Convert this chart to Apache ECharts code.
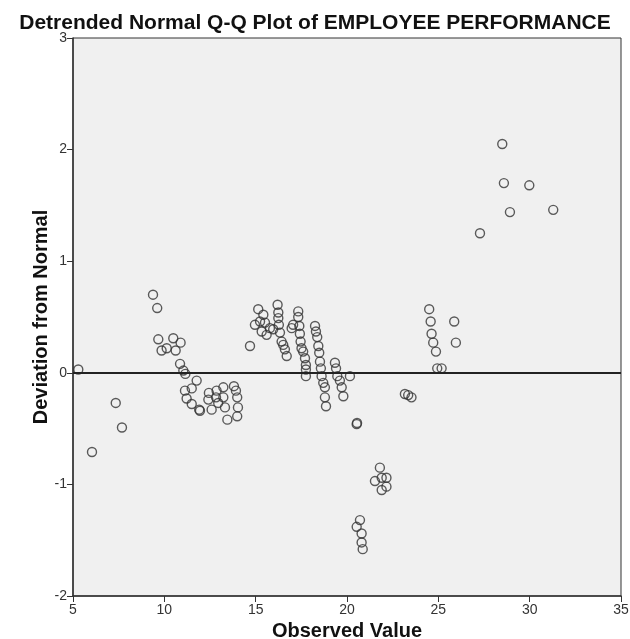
<!DOCTYPE html>
<html>
<head>
<meta charset="utf-8">
<script src="https://cdn.jsdelivr.net/npm/echarts@6/dist/echarts.min.js"></script>
<style>
  html, body { margin: 0; padding: 0; background: #fff; }
  #box { width: 630px; height: 639px; }
</style>
</head>
<body>
<div id="box"></div>
<script>
var observed = [
    5.29, 6.04, 7.34, 7.68, 9.38, 9.61, 9.67, 9.85, 10.13, 10.49,
    10.89, 10.62, 10.86, 11.04, 11.15, 11.77, 11.13, 11.50, 11.22, 11.50,
    11.91, 11.95, 12.44, 12.41, 12.59, 12.86, 12.83, 12.95, 13.23, 13.23,
    13.32, 13.45, 13.81, 13.92, 13.99, 14.03, 13.99, 14.69, 15.14, 14.96,
    15.24, 15.42, 15.51, 15.33, 15.60, 15.78, 15.96, 16.20, 16.24, 16.24,
    16.27, 16.33, 16.42, 16.51, 16.60, 16.70, 16.97, 17.05, 17.33, 17.33,
    17.39, 17.42, 17.46, 17.51, 17.60, 17.70, 17.75, 17.75, 17.75, 18.25,
    18.30, 18.37, 18.43, 18.48, 18.52, 18.57, 18.61, 18.70, 18.79, 18.79,
    18.85, 19.34, 19.40, 19.47, 19.61, 19.71, 19.80, 20.16, 20.53, 20.55,
    21.80, 21.53, 21.90, 22.16, 21.90, 22.16, 20.71, 20.53, 20.80, 20.80,
    20.86, 23.17, 23.35, 23.53, 24.50, 24.58, 24.63, 24.72, 24.87, 24.94,
    25.18, 25.87, 25.96, 27.28, 28.50, 28.59, 28.92, 29.98, 31.29
];
var deviation = [
    0.03, -0.71, -0.27, -0.49, 0.70, 0.58, 0.30, 0.20, 0.22, 0.31,
    0.27, 0.20, 0.08, 0.02, -0.01, -0.07, -0.16, -0.14, -0.23, -0.28,
    -0.33, -0.34, -0.18, -0.24, -0.33, -0.16, -0.22, -0.27, -0.13, -0.22,
    -0.31, -0.42, -0.12, -0.16, -0.22, -0.31, -0.39, 0.24, 0.57, 0.43,
    0.46, 0.52, 0.45, 0.37, 0.34, 0.40, 0.39, 0.61, 0.54, 0.49,
    0.43, 0.36, 0.28, 0.25, 0.21, 0.15, 0.40, 0.43, 0.55, 0.50,
    0.42, 0.35, 0.28, 0.22, 0.19, 0.13, 0.07, 0.03, -0.03, 0.42,
    0.37, 0.32, 0.24, 0.18, 0.10, 0.04, -0.03, -0.09, -0.13, -0.22,
    -0.30, 0.09, 0.04, -0.03, -0.07, -0.13, -0.21, -0.03, -0.46, -0.45,
    -0.85, -0.97, -0.94, -0.94, -1.05, -1.02, -1.32, -1.38, -1.44, -1.52,
    -1.58, -0.19, -0.20, -0.22, 0.57, 0.46, 0.35, 0.27, 0.19, 0.04,
    0.04, 0.46, 0.27, 1.25, 2.05, 1.70, 1.44, 1.68, 1.46
];
var referenceLevel = 0;

var points = observed.map(function (v, i) {
    return [v, deviation[i]];
});

var myChart = echarts.init(document.getElementById('box'));

var option = {
    animation: false,
    backgroundColor: '#ffffff',
    title: {
        text: 'Detrended Normal Q-Q Plot of EMPLOYEE PERFORMANCE',
        left: 'center',
        top: 8,
        textStyle: {
            fontFamily: 'Liberation Sans',
            fontSize: 21,
            fontWeight: 'bold',
            color: '#111'
        }
    },
    grid: {
        left: 73,
        right: 9,
        top: 38,
        bottom: 43,
        outerBoundsMode: 'none',
        containLabel: false,
        show: true,
        backgroundColor: '#f0f0f0',
        borderColor: '#333',
        borderWidth: 1
    },
    xAxis: {
        type: 'value',
        min: 5,
        max: 35,
        interval: 5,
        name: 'Observed Value',
        nameLocation: 'middle',
        nameGap: 25,
        nameMoveOverlap: false,
        nameTextStyle: {
            fontFamily: 'Liberation Sans',
            fontSize: 20,
            fontWeight: 'bold',
            color: '#111'
        },
        axisLine: { onZero: false, lineStyle: { color: '#333', width: 1.5 } },
        axisTick: { show: true, inside: false, length: 6, lineStyle: { color: '#333' } },
        axisLabel: { fontFamily: 'Liberation Sans', fontSize: 14, color: '#333', margin: 7 },
        splitLine: { show: false }
    },
    yAxis: {
        type: 'value',
        min: -2,
        max: 3,
        interval: 1,
        name: 'Deviation from Normal',
        nameLocation: 'middle',
        nameGap: 22,
        nameMoveOverlap: false,
        nameTextStyle: {
            fontFamily: 'Liberation Sans',
            fontSize: 20,
            fontWeight: 'bold',
            color: '#111'
        },
        axisLine: { show: true, onZero: false, lineStyle: { color: '#333', width: 1.5 } },
        axisTick: { show: true, inside: false, length: 6, lineStyle: { color: '#333' } },
        axisLabel: { fontFamily: 'Liberation Sans', fontSize: 14, color: '#333', margin: 6 },
        splitLine: { show: false }
    },
    series: [{
        type: 'scatter',
        data: points,
        symbol: 'circle',
        symbolSize: 9,
        itemStyle: {
            color: 'rgba(0,0,0,0)',
            borderColor: '#333',
            borderWidth: 1.4
        },
        markLine: {
            silent: true,
            symbol: ['none', 'none'],
            label: { show: false },
            lineStyle: { color: '#222', width: 2, type: 'solid' },
            data: [{ yAxis: referenceLevel }]
        }
    }]
};

myChart.setOption(option);
</script>
</body>
</html>
